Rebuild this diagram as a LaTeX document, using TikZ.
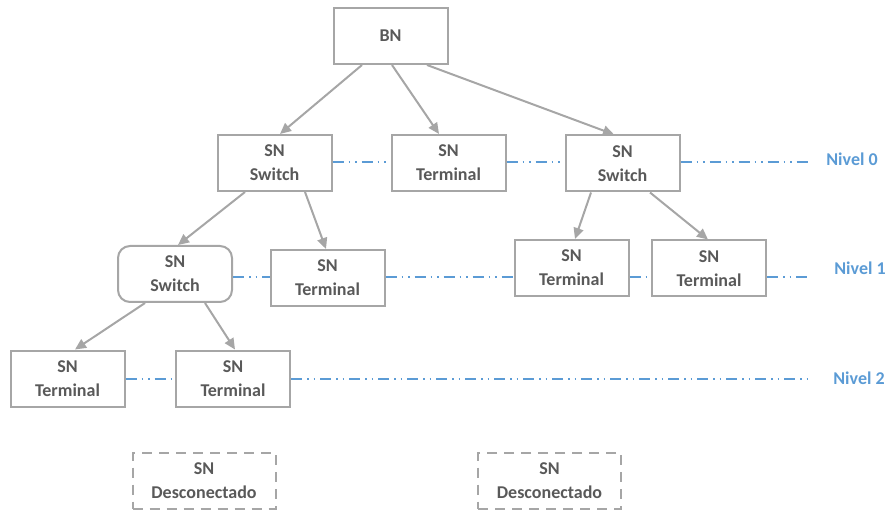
\documentclass[tikz,border=0pt]{standalone}
\usepackage{fontspec}
\setmainfont{Carlito}
\usetikzlibrary{arrows.meta}
\definecolor{boxgray}{RGB}{166,166,166}
\definecolor{txtgray}{RGB}{89,89,89}
\definecolor{lvlblue}{RGB}{91,155,213}
\tikzset{
  box/.style={draw=boxgray, line width=2pt, fill=white, minimum width=114pt, minimum height=56pt,
    inner sep=0pt, align=center, text=txtgray, font=\fontsize{18}{24}\selectfont\bfseries},
  rbox/.style={box, rounded corners=12pt},
  dbox/.style={box, minimum width=143pt, dash pattern=on 10pt off 7pt},
  link/.style={draw=boxgray, line width=2pt, -{Triangle[length=11pt,width=10pt]}},
  lvl/.style={draw=lvlblue, line width=1.3pt, dash pattern=on 11pt off 5pt on 1.5pt off 5pt on 1.5pt off 5pt},
  lvltext/.style={text=lvlblue, font=\fontsize{18}{22}\selectfont\bfseries, inner sep=0pt}
}
\begin{document}
\begin{tikzpicture}[x=1pt,y=-1pt]
\useasboundingbox (0,0) rectangle (888,510);

% nodes
\node[box]  (bn)   at (390.5,36)  {BN};
\node[box]  (sw0)  at (274.5,163) {SN\\Switch};
\node[box]  (t0)   at (448.5,163) {SN\\Terminal};
\node[box]  (sw0r) at (622.5,163.5) {SN\\Switch};
\node[rbox] (sw1)  at (175,274)   {SN\\Switch};
\node[box]  (t1)   at (327.5,278) {SN\\Terminal};
\node[box]  (t1a)  at (571.5,268) {SN\\Terminal};
\node[box]  (t1b)  at (709,268.5) {SN\\Terminal};
\node[box]  (t2a)  at (67.5,378.5) {SN\\Terminal};
\node[box]  (t2b)  at (233,378.5) {SN\\Terminal};
\node[dbox] (d1)   at (204,480.5) {SN\\Desconectado};
\node[dbox] (d2)   at (549.5,480.5) {SN\\Desconectado};

% level guides
\coordinate (l0) at (808,162);
\coordinate (l1) at (808,277);
\coordinate (l2) at (808,379);
\draw[lvl] (sw0.east |- l0) -- (t0.west |- l0);
\draw[lvl] (t0.east |- l0) -- (sw0r.west |- l0);
\draw[lvl] (sw0r.east |- l0) -- (l0);
\draw[lvl] (sw1.east |- l1) -- (t1.west |- l1);
\draw[lvl] (t1.east |- l1) -- (t1a.west |- l1);
\draw[lvl] (t1a.east |- l1) -- (t1b.west |- l1);
\draw[lvl] (t1b.east |- l1) -- (l1);
\draw[lvl] (t2a.east |- l2) -- (t2b.west |- l2);
\draw[lvl] (t2b.east |- l2) -- (l2);

\node[lvltext] (n0) at (852,159) {Nivel 0};
\node[lvltext] (n1) at (860,268) {Nivel 1};
\node[lvltext] (n2) at (859,378) {Nivel 2};

% tree links
\draw[link] ([xshift=-28.5pt]bn.south) -- ([xshift=5.5pt]sw0.north);
\draw[link] ([xshift=1.5pt]bn.south)   -- ([xshift=-9.5pt]t0.north);
\draw[link] ([xshift=36.5pt]bn.south)  -- ([xshift=-8.5pt]sw0r.north);
\draw[link] ([xshift=-29.5pt]sw0.south) -- ([xshift=3pt]sw1.north);
\draw[link] ([xshift=30.5pt]sw0.south)  -- ([xshift=-1.5pt]t1.north);
\draw[link] ([xshift=-31.5pt]sw0r.south) -- ([xshift=3.5pt]t1a.north);
\draw[link] ([xshift=27.5pt]sw0r.south)  -- ([xshift=-1pt]t1b.north);
\draw[link] ([xshift=-30pt]sw1.south) -- ([xshift=7.5pt]t2a.north);
\draw[link] ([xshift=30pt]sw1.south)  -- ([xshift=2pt]t2b.north);
\end{tikzpicture}
\end{document}
